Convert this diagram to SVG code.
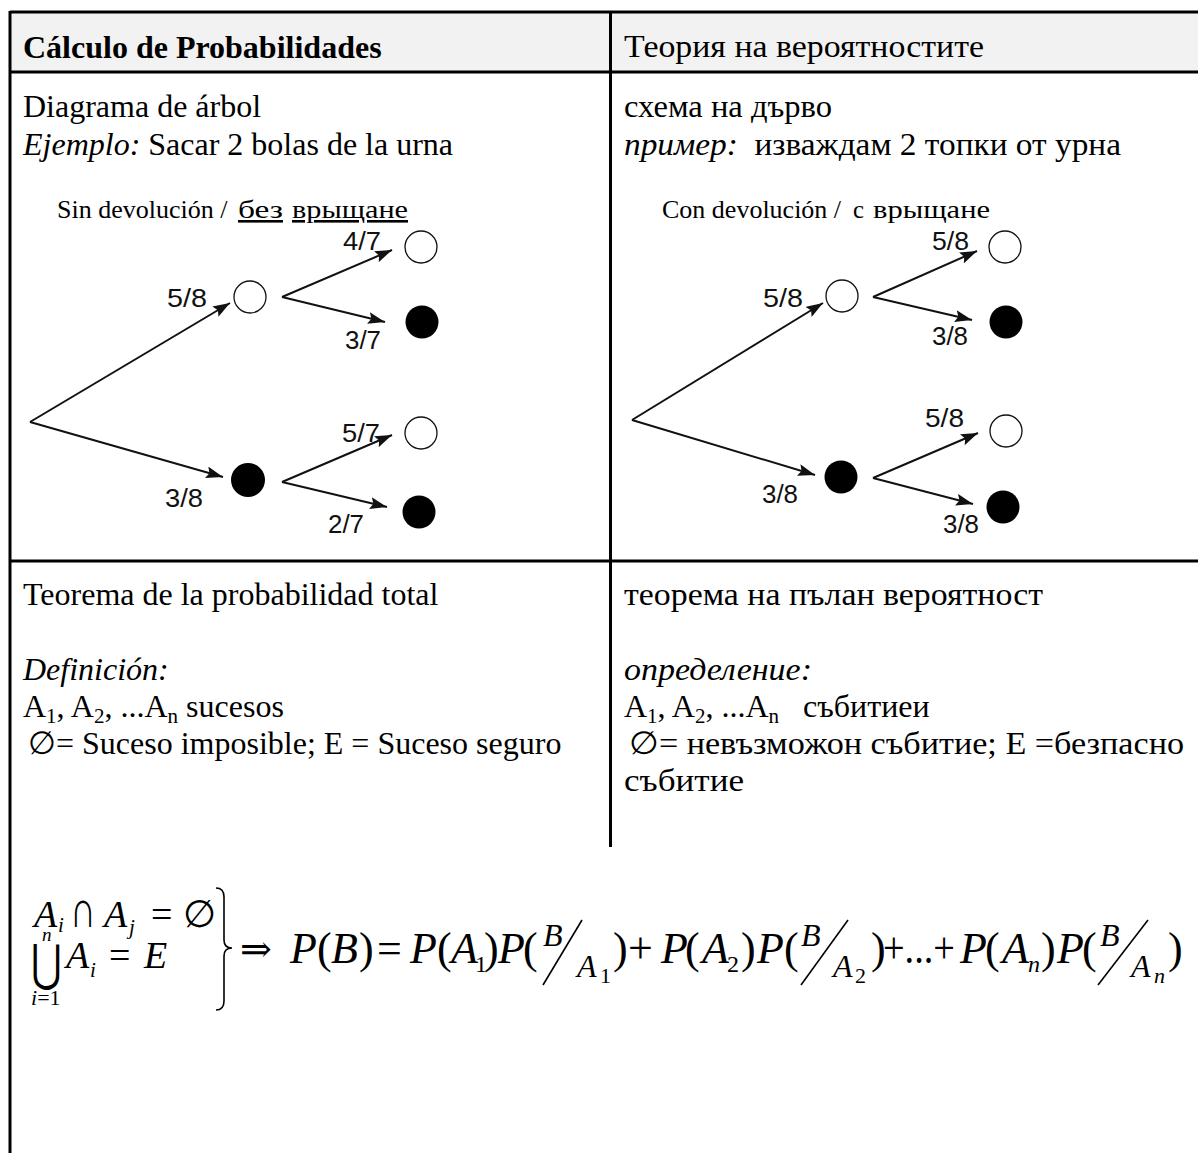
<svg xmlns="http://www.w3.org/2000/svg" width="1198" height="1153" viewBox="0 0 1198 1153">
<style>
.t{font-family:"Liberation Serif","DejaVu Serif",serif;font-size:32px;fill:#000}
.b{font-weight:bold}
.i{font-style:italic}
.sm{font-family:"Liberation Serif","DejaVu Serif",serif;font-size:26px;fill:#000}
.lb{font-family:"Liberation Sans",Arial,sans-serif;font-size:25px;fill:#111}
.grid{stroke:#000;stroke-width:3;fill:none}
.edge{stroke:#111;stroke-width:2;fill:none;marker-end:url(#ah)}
.w{fill:#fff;stroke:#111;stroke-width:1.3}
.k{fill:#000}
.m{font-family:"Liberation Serif","DejaVu Serif",serif;fill:#000}
.mi{font-family:"Liberation Serif","DejaVu Serif",serif;font-style:italic;fill:#000}
.sl{stroke:#000;stroke-width:1.6}
</style>
<defs>
<marker id="ah" markerUnits="userSpaceOnUse" markerWidth="18" markerHeight="12" refX="17" refY="6" orient="auto">
<path d="M0,0 L17,6 L0,12 L3,6 Z" fill="#111"/>
</marker>
</defs>
<rect x="10" y="12" width="1188" height="60" fill="#f2f2f2"/>
<g id="table" class="grid">
<line x1="10" y1="12" x2="1198" y2="12"/>
<line x1="10" y1="72" x2="1198" y2="72"/>
<line x1="10" y1="561" x2="1198" y2="561"/>
<line x1="10" y1="11" x2="10" y2="1153"/>
<line x1="610.5" y1="11" x2="610.5" y2="847"/>
</g>
<g id="header">
<text class="t b" x="23" y="58">Cálculo de Probabilidades</text>
<text class="t" x="624" y="57" textLength="360" lengthAdjust="spacingAndGlyphs">Теория на вероятностите</text>
</g>
<g id="row-tree-text">
<text class="t" x="23" y="117">Diagrama de árbol</text>
<text class="t" x="23" y="155"><tspan class="i">Ejemplo:</tspan> Sacar 2 bolas de la urna</text>
<text class="t" x="624" y="117" textLength="208" lengthAdjust="spacingAndGlyphs">схема на дърво</text>
<text class="t" x="624" y="155" xml:space="preserve" textLength="497" lengthAdjust="spacingAndGlyphs"><tspan class="i">пример:</tspan>  изваждам 2 топки от урна</text>
<text class="sm" x="57" y="218">Sin devolución /</text>
<text class="sm" x="238" y="218" textLength="45" lengthAdjust="spacingAndGlyphs" text-decoration="underline">без</text>
<text class="sm" x="292" y="218" textLength="116" lengthAdjust="spacingAndGlyphs" text-decoration="underline">врыщане</text>
<text class="sm" x="662" y="218">Con devolución /</text>
<text class="sm" x="853" y="218" textLength="11" lengthAdjust="spacingAndGlyphs">с</text>
<text class="sm" x="873" y="218" textLength="117" lengthAdjust="spacingAndGlyphs">врыщане</text>
</g>
<g id="connectors">
<line class="edge" x1="30" y1="422" x2="230" y2="303"/>
<line class="edge" x1="30" y1="422" x2="223" y2="477"/>
<line class="edge" x1="282" y1="297" x2="392" y2="250"/>
<line class="edge" x1="282" y1="297" x2="385" y2="322"/>
<line class="edge" x1="282" y1="482" x2="392" y2="435"/>
<line class="edge" x1="282" y1="482" x2="387" y2="507"/>
<line class="edge" x1="632" y1="420" x2="823" y2="303"/>
<line class="edge" x1="632" y1="420" x2="815" y2="475"/>
<line class="edge" x1="873" y1="297" x2="977" y2="251"/>
<line class="edge" x1="873" y1="297" x2="972" y2="320"/>
<line class="edge" x1="873" y1="478" x2="978" y2="433"/>
<line class="edge" x1="873" y1="478" x2="973" y2="504"/>
</g>
<g id="tree-left">
<circle id="L1w" class="w" cx="250" cy="297" r="16"/>
<circle id="L1b" class="k" cx="248" cy="480" r="17"/>
<circle id="L2ww" class="w" cx="421" cy="247" r="16"/>
<circle id="L2wb" class="k" cx="422" cy="322" r="16.5"/>
<circle id="L2bw" class="w" cx="421" cy="433" r="16"/>
<circle id="L2bb" class="k" cx="419" cy="512" r="16.5"/>
<text class="lb" x="167" y="307" textLength="40" lengthAdjust="spacingAndGlyphs">5/8</text>
<text class="lb" x="343" y="250" textLength="38" lengthAdjust="spacingAndGlyphs">4/7</text>
<text class="lb" x="345" y="349" textLength="36" lengthAdjust="spacingAndGlyphs">3/7</text>
<text class="lb" x="342" y="442" textLength="38" lengthAdjust="spacingAndGlyphs">5/7</text>
<text class="lb" x="165" y="507" textLength="38" lengthAdjust="spacingAndGlyphs">3/8</text>
<text class="lb" x="328" y="533" textLength="36" lengthAdjust="spacingAndGlyphs">2/7</text>
</g>
<g id="tree-right">
<circle id="R1w" class="w" cx="842" cy="296" r="16"/>
<circle id="R1b" class="k" cx="841" cy="477" r="16.5"/>
<circle id="R2ww" class="w" cx="1005" cy="247" r="16"/>
<circle id="R2wb" class="k" cx="1006" cy="322" r="16.5"/>
<circle id="R2bw" class="w" cx="1006" cy="431" r="16"/>
<circle id="R2bb" class="k" cx="1003" cy="507" r="16.5"/>
<text class="lb" x="763" y="307" textLength="40" lengthAdjust="spacingAndGlyphs">5/8</text>
<text class="lb" x="932" y="250" textLength="37" lengthAdjust="spacingAndGlyphs">5/8</text>
<text class="lb" x="932" y="345" textLength="36" lengthAdjust="spacingAndGlyphs">3/8</text>
<text class="lb" x="925" y="427" textLength="39" lengthAdjust="spacingAndGlyphs">5/8</text>
<text class="lb" x="762" y="503" textLength="36" lengthAdjust="spacingAndGlyphs">3/8</text>
<text class="lb" x="943" y="533" textLength="36" lengthAdjust="spacingAndGlyphs">3/8</text>
</g>
<g id="row-theorem-text">
<text class="t" x="23" y="605">Teorema de la probabilidad total</text>
<text class="t i" x="23" y="680">Definición:</text>
<text class="t" x="23" y="717">A<tspan font-size="21" dy="6">1</tspan><tspan dy="-6">, A</tspan><tspan font-size="21" dy="6">2</tspan><tspan dy="-6">, ...A</tspan><tspan font-size="21" dy="6">n</tspan><tspan dy="-6"> sucesos</tspan></text>
<text class="t" x="28" y="754">∅= Suceso imposible; E = Suceso seguro</text>
<text class="t" x="624" y="605" textLength="419" lengthAdjust="spacingAndGlyphs">теорема на пълан вероятност</text>
<text class="t i" x="624" y="680" textLength="188" lengthAdjust="spacingAndGlyphs">определение:</text>
<text class="t" x="624" y="717" xml:space="preserve">A<tspan font-size="21" dy="6">1</tspan><tspan dy="-6">, A</tspan><tspan font-size="21" dy="6">2</tspan><tspan dy="-6">, ...A</tspan><tspan font-size="21" dy="6">n</tspan><tspan dy="-6">   събитиеи</tspan></text>
<text class="t" x="629" y="754" textLength="555" lengthAdjust="spacingAndGlyphs">∅= невъзможон събитие; Е =безпасно</text>
<text class="t" x="624" y="791" textLength="120" lengthAdjust="spacingAndGlyphs">събитие</text>
</g>
<g id="formula">
<text class="mi" font-size="38" x="34" y="927">A</text>
<text class="mi" font-size="21" x="58" y="932">i</text>
<text class="m" font-size="34" transform="translate(70,927) scale(1.05,1.55)">∩</text>
<text class="mi" font-size="38" x="104" y="927">A</text>
<text class="mi" font-size="21" x="129" y="934">j</text>
<text class="m" font-size="38" x="151" y="927">=</text>
<text class="m" font-size="38" x="183" y="927">∅</text>
<text class="mi" font-size="19" x="42" y="941">n</text>
<text class="m" font-size="50" transform="translate(31,980) scale(0.75,1)">⋃</text>
<text class="mi" font-size="38" x="66" y="968">A</text>
<text class="mi" font-size="21" x="90" y="977">i</text>
<text class="m" font-size="38" x="109" y="968">=</text>
<text class="mi" font-size="38" x="144" y="968">E</text>
<text class="m" font-size="22" x="31" y="1005"><tspan font-style="italic">i</tspan>=1</text>
<path d="M216,888 Q224,888 224,897 L224,940 Q224,948 232,948 Q224,948 224,956 L224,1001 Q224,1010 216,1010" fill="none" stroke="#000" stroke-width="1.6"/>
<text class="m" font-size="38" x="240" y="962">⇒</text>
<g font-size="44">
<text class="mi" x="290" y="963">P</text>
<text class="m" x="317" y="963">(</text>
<text class="mi" x="331" y="963">B</text>
<text class="m" x="359" y="963">)</text>
<text class="m" x="377" y="963">=</text>
<text class="mi" x="410" y="963">P</text>
<text class="m" x="437" y="963">(</text>
<text class="mi" x="451" y="963">A</text>
<text class="m" x="475" y="972" font-size="24">1</text>
<text class="m" x="484" y="963">)</text>
<text class="mi" x="498" y="963">P</text>
<text class="m" x="523" y="963">(</text>
<text class="mi" x="543" y="946" font-size="32">B</text>
<line class="sl" x1="543" y1="985" x2="582" y2="920"/>
<text class="mi" x="577" y="977" font-size="32">A</text>
<text class="m" x="600" y="983" font-size="22">1</text>
<text class="m" x="613" y="963">)</text>
<text class="m" x="628" y="963">+</text>
<text class="mi" x="661" y="963">P</text>
<text class="m" x="685" y="963">(</text>
<text class="mi" x="702" y="963">A</text>
<text class="m" x="727" y="972" font-size="24">2</text>
<text class="m" x="741" y="963">)</text>
<text class="mi" x="757" y="963">P</text>
<text class="m" x="784" y="963">(</text>
<text class="mi" x="801" y="946" font-size="32">B</text>
<line class="sl" x1="801" y1="985" x2="848" y2="920"/>
<text class="mi" x="833" y="977" font-size="32">A</text>
<text class="m" x="855" y="983" font-size="22">2</text>
<text class="m" x="871" y="963">)</text>
<text class="m" x="883" y="963" textLength="72" lengthAdjust="spacingAndGlyphs">+...+</text>
<text class="mi" x="960" y="963">P</text>
<text class="m" x="985" y="963">(</text>
<text class="mi" x="1002" y="963">A</text>
<text class="mi" x="1028" y="972" font-size="24">n</text>
<text class="m" x="1041" y="963">)</text>
<text class="mi" x="1057" y="963">P</text>
<text class="m" x="1082" y="963">(</text>
<text class="mi" x="1100" y="946" font-size="32">B</text>
<line class="sl" x1="1098" y1="985" x2="1148" y2="920"/>
<text class="mi" x="1131" y="977" font-size="32">A</text>
<text class="mi" x="1154" y="983" font-size="22">n</text>
<text class="m" x="1168" y="963">)</text>
</g>
</g>
</svg>
